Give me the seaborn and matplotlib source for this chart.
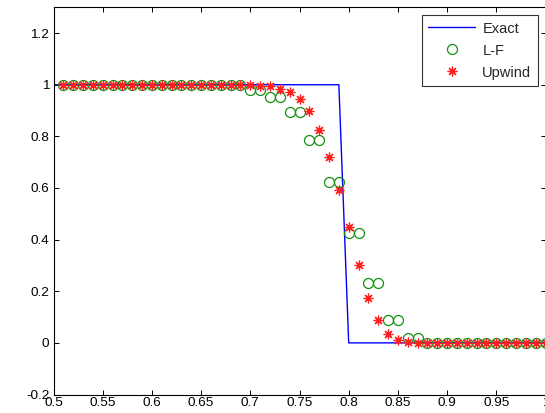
import numpy as np
import pandas as pd
import matplotlib
matplotlib.use("Agg")
import matplotlib.pyplot as plt
import seaborn as sns

# ==========================================
# data
# ==========================================
x_exact = [0.5, 0.79, 0.80, 1.0]
u_exact = [1.0, 1.0, 0.0, 0.0]

x_grid = [round(0.51 + 0.01 * i, 2) for i in range(50)]

# Lax-Friedrichs (values come in pairs)
u_lf = ([1.0] * 19 +
        [0.98, 0.98, 0.954, 0.954, 0.893, 0.893, 0.786, 0.786, 0.625, 0.625,
         0.427, 0.427, 0.233, 0.233, 0.089, 0.089, 0.02, 0.02] +
        [0.0] * 13)

# upwind
u_up = ([1.0] * 19 +
        [0.998, 0.997, 0.995, 0.983, 0.970, 0.945, 0.897, 0.826, 0.721, 0.591,
         0.447, 0.302, 0.175, 0.089, 0.035, 0.013, 0.003, 0.0] +
        [0.0] * 13)

x_ticks = [0.5, 0.55, 0.6, 0.65, 0.7, 0.75, 0.8, 0.85, 0.9, 0.95, 1.0]
x_labels = ['0.5', '0.55', '0.6', '0.65', '0.7', '0.75', '0.8', '0.85', '0.9', '0.95', '1']
y_ticks = [-0.2, 0, 0.2, 0.4, 0.6, 0.8, 1.0, 1.2]
y_labels = ['-0.2', '0', '0.2', '0.4', '0.6', '0.8', '1', '1.2']

exact_df = pd.DataFrame({'x': x_exact, 'u': u_exact})
num_df = pd.DataFrame({'x': x_grid, 'lf': u_lf, 'up': u_up})

# ==========================================
# style
# ==========================================
sns.set_theme(style='ticks')
plt.rcParams['font.family'] = ['Liberation Sans', 'DejaVu Sans']
plt.rcParams['xtick.direction'] = 'in'
plt.rcParams['ytick.direction'] = 'in'

W, H = 545, 413
fig = plt.figure(figsize=(W / 100, H / 100), dpi=100)
fig.patch.set_facecolor('white')
left, right, top, bottom = 53.5, 545.5, 7.3, 394.5
ax = fig.add_axes([left / W, 1 - bottom / H, (right - left) / W, (bottom - top) / H])

sns.lineplot(data=exact_df, x='x', y='u', color='#0000ff', linewidth=1.0,
             sort=False, estimator=None, label='Exact', ax=ax)
sns.lineplot(data=num_df, x='x', y='lf', color='#119011', linestyle='',
             marker='o', markersize=7.2, markerfacecolor='none',
             markeredgecolor='#119011', markeredgewidth=0.9,
             sort=False, estimator=None, label='L-F', ax=ax)
sns.lineplot(data=num_df, x='x', y='up', color='#ff0000', linestyle='',
             marker=(8, 2, 0), markersize=7.0, markeredgewidth=0.9,
             markeredgecolor='#ff2020',
             sort=False, estimator=None, label='Upwind', ax=ax)

ax.set_xlim(0.5, 1.0)
ax.set_ylim(-0.2, 1.3)
ax.set_xticks(x_ticks)
ax.set_xticklabels(x_labels)
ax.set_yticks(y_ticks)
ax.set_yticklabels(y_labels)
ax.set_xlabel('')
ax.set_ylabel('')
ax.tick_params(axis='both', which='both', direction='in', length=3.6, width=0.7,
               top=True, right=True, labelsize=9.7, colors='black')
ax.tick_params(axis='x', pad=2)
ax.tick_params(axis='y', pad=3)
for sp in ax.spines.values():
    sp.set_visible(True)
    sp.set_color('black')
    sp.set_linewidth(0.8)

leg = ax.legend(loc='upper right', bbox_to_anchor=(538 / W, 1 - 15 / H),
                bbox_transform=fig.transFigure, borderaxespad=0,
                fancybox=False, frameon=True, fontsize=10.5, numpoints=1,
                handlelength=3.2, handletextpad=0.5, labelspacing=0.55,
                borderpad=0.45)
leg.get_frame().set_edgecolor('black')
leg.get_frame().set_linewidth(0.8)

fig.savefig('out.png', dpi=100)
